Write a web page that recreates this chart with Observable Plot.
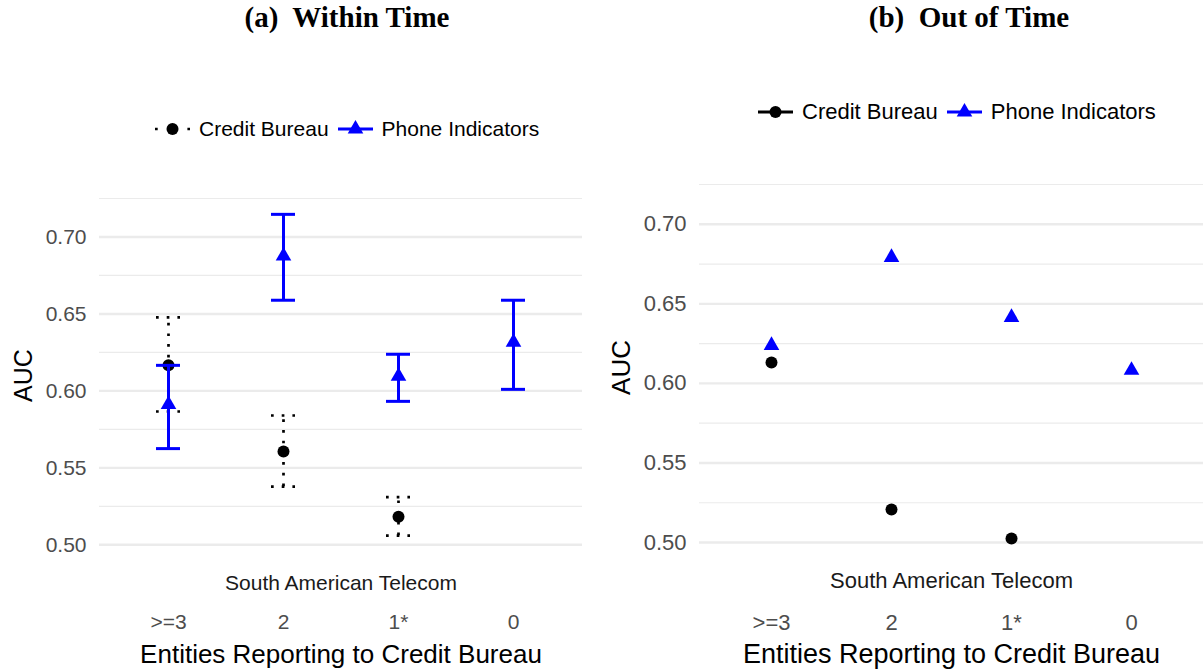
<!DOCTYPE html>
<html><head><meta charset="utf-8">
<script src="https://cdn.jsdelivr.net/npm/d3@7"></script>
<script src="https://cdn.jsdelivr.net/npm/@observablehq/plot@0.6"></script>
<style>
body{margin:0;background:#fff;}
#wrap{position:relative;width:1204px;height:672px;overflow:hidden;font-family:"Liberation Sans",Arial,sans-serif;background:#fff;}
.title{position:absolute;top:1px;font-family:"Liberation Serif","Times New Roman",serif;font-weight:bold;font-size:29px;white-space:pre;transform:translateX(-50%);color:#000;}
.legend{position:absolute;display:flex;align-items:center;height:24px;color:#000;white-space:nowrap;}
.legend svg{display:block}
.legend span{margin:0 9px 0 9px;}
.panel{position:absolute;top:0}
</style></head><body>
<div id="wrap">
  <div class="title" style="left:347px">(a)  Within Time</div>
  <div class="title" style="left:969px">(b)  Out of Time</div>
  <div class="legend" id="legA" style="left:155px;top:117px;font-size:21px"></div>
  <div class="legend" id="legB" style="left:758px;top:100px;font-size:22px"></div>
  <div class="panel" id="pA" style="left:0"></div>
  <div class="panel" id="pB" style="left:600px"></div>
</div>
<script>
// ---------- data ----------
const categories = [">=3", "2", "1*", "0"];
const seriesNames = ["Credit Bureau", "Phone Indicators"];
const yTicks = [0.50, 0.55, 0.60, 0.65, 0.70];
const yMinorTicks = [0.525, 0.575, 0.625, 0.675, 0.725];
const facetLabel = "South American Telecom";
const xTitle = "Entities Reporting to Credit Bureau";
const yTitle = "AUC";

// (a) Within Time — Credit Bureau has no value for "0"
const withinCB     = [0.6166, 0.5606, 0.5182];
const withinCBLow  = [0.5866, 0.5378, 0.5059];
const withinCBHigh = [0.6478, 0.5840, 0.5310];
const withinPI     = [0.5912, 0.6876, 0.6095, 0.6316];
const withinPILow  = [0.5625, 0.6589, 0.5932, 0.6010];
const withinPIHigh = [0.6166, 0.7147, 0.6238, 0.6589];

// (b) Out of Time
const outCB = [0.6132, 0.5208, 0.5025];
const outPI = [0.6239, 0.6792, 0.6415, 0.6082];

// ---------- helpers ----------
const rows = (vals, lo, hi) => vals.map((v, i) => ({cat: categories[i], v, lo: lo ? lo[i] : null, hi: hi ? hi[i] : null}));

function panel({width, marginLeft, marginRight, marginTop, marginBottom, capInset, cb, pi, errors, fs}) {
  const marks = [
    Plot.ruleY(yMinorTicks, {stroke: "#ebebeb", strokeWidth: 1.2}),
    Plot.ruleY(yTicks, {stroke: "#ebebeb", strokeWidth: 2.4}),
  ];
  const dotted = {stroke: "black", strokeWidth: 2.7, strokeDasharray: "2.7 8"};
  const solid = {stroke: "blue", strokeWidth: 3};
  if (errors) {
    marks.push(
      Plot.ruleX(cb, {x: "cat", y1: "lo", y2: "hi", ...dotted}),
      Plot.tickY(cb, {x: "cat", y: "lo", insetLeft: capInset, insetRight: capInset, ...dotted}),
      Plot.tickY(cb, {x: "cat", y: "hi", insetLeft: capInset, insetRight: capInset, ...dotted})
    );
  }
  marks.push(Plot.dot(cb, {x: "cat", y: "v", r: 6, fill: "black", stroke: null}));
  if (errors) {
    marks.push(
      Plot.ruleX(pi, {x: "cat", y1: "lo", y2: "hi", ...solid}),
      Plot.tickY(pi, {x: "cat", y: "lo", insetLeft: capInset, insetRight: capInset, ...solid}),
      Plot.tickY(pi, {x: "cat", y: "hi", insetLeft: capInset, insetRight: capInset, ...solid})
    );
  }
  marks.push(
    Plot.dot(pi, {x: "cat", y: "v", r: 5.8, symbol: "triangle", fill: "blue", stroke: null}),
    Plot.axisY(yTicks, {tickSize: 0, tickPadding: 13, tickFormat: d3.format(".2f"), fontSize: fs.tick, color: "#4d4d4d", label: null}),
    Plot.axisX({tickSize: 0, tickPadding: fs.xPad, fontSize: fs.tick, color: "#4d4d4d", label: null}),
    Plot.text([yTitle], {frameAnchor: "left", dx: fs.auc, rotate: -90, textAnchor: "middle", fontSize: fs.aucSize, fill: "black"}),
    Plot.text([facetLabel], {frameAnchor: "bottom", lineAnchor: "middle", dy: fs.facetDy, fontSize: fs.tick, fill: "#1a1a1a"}),
    Plot.text([xTitle], {frameAnchor: "bottom", lineAnchor: "middle", dy: fs.titleDy, fontSize: fs.title, fill: "black"})
  );
  return Plot.plot({
    width, height: 672, marginLeft, marginRight, marginTop, marginBottom,
    style: {fontFamily: "Liberation Sans, Arial, sans-serif", background: "transparent", overflow: "visible"},
    x: {type: "band", domain: categories, padding: 0.2, axis: null},
    y: {domain: [0.495, 0.725], axis: null},
    marks
  });
}

document.getElementById("pA").append(panel({
  width: 600, marginLeft: 99, marginRight: 18, marginTop: 198, marginBottom: 120, capInset: 34,
  cb: rows(withinCB, withinCBLow, withinCBHigh), pi: rows(withinPI, withinPILow, withinPIHigh), errors: true,
  fs: {tick: 21, xPad: 62, aucSize: 25, auc: -76, facetDy: 31, titleDy: 102, title: 26}
}));
document.getElementById("pB").append(panel({
  width: 604, marginLeft: 99, marginRight: 1, marginTop: 184, marginBottom: 122, capInset: 36,
  cb: rows(outCB), pi: rows(outPI), errors: false,
  fs: {tick: 22, xPad: 64, aucSize: 26, auc: -78, facetDy: 30, titleDy: 104, title: 27}
}));

// ---------- legends ----------
function legend(el, dottedCB) {
  const key = (color, dash, sym) => {
    const s = d3.create("svg").attr("width", 35).attr("height", 20);
    s.append("line").attr("x1", 0).attr("x2", 35).attr("y1", 10).attr("y2", 10)
      .attr("stroke", color).attr("stroke-width", dash ? 2.7 : 3).attr("stroke-dasharray", dash || null);
    if (sym === "circle") s.append("circle").attr("cx", 17.5).attr("cy", 10).attr("r", 6).attr("fill", color);
    else s.append("path").attr("transform", "translate(17.5,10)").attr("d", d3.symbol(d3.symbolTriangle, Math.PI * 5.8 * 5.8)()).attr("fill", color);
    return s.node();
  };
  el.append(key("black", dottedCB ? "2.7 13.5" : null, "circle"));
  const t1 = document.createElement("span"); t1.textContent = seriesNames[0]; el.append(t1);
  el.append(key("blue", null, "triangle"));
  const t2 = document.createElement("span"); t2.textContent = seriesNames[1]; el.append(t2);
}
legend(document.getElementById("legA"), true);
legend(document.getElementById("legB"), false);
</script>
</body></html>
